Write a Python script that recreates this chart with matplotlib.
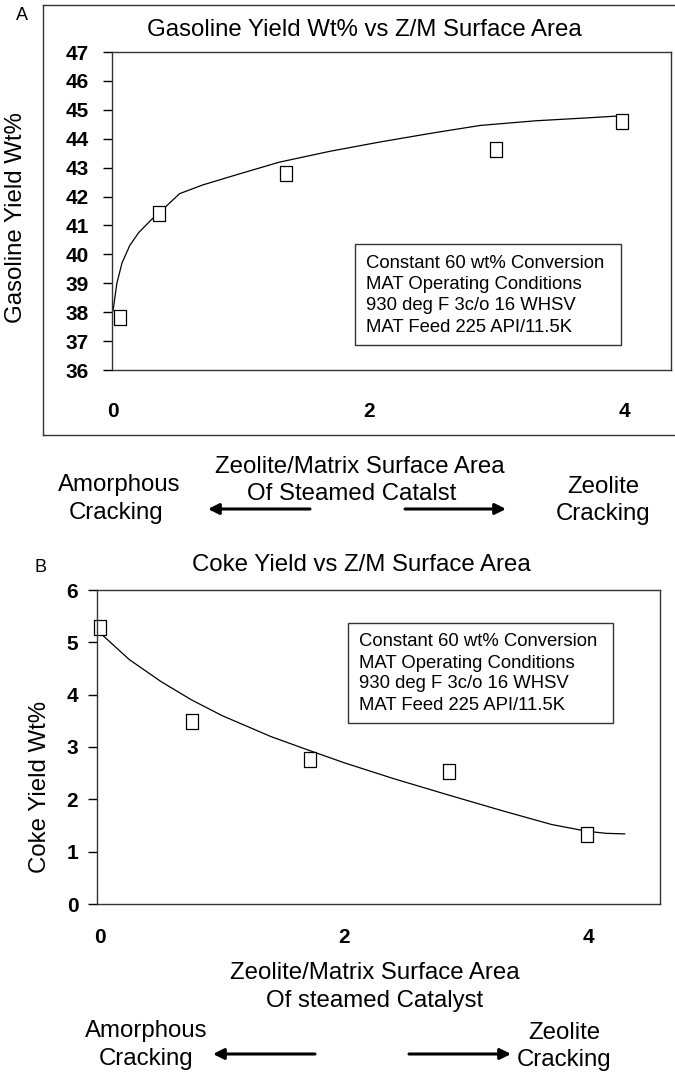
import matplotlib
matplotlib.use("Agg")
import matplotlib.pyplot as plt
from matplotlib.lines import Line2D
from matplotlib.patches import Rectangle
plt.rcParams['font.family'] = ['Liberation Sans', 'DejaVu Sans']

# panel A data: gasoline yield
gas_x = [0.055, 0.36, 1.35, 2.99, 3.98]
gas_y = [37.85, 41.43, 42.83, 43.66, 44.62]
gas_fit_x = [0.0, 0.03, 0.07, 0.13, 0.2, 0.3, 0.4, 0.52, 0.7, 1.0, 1.3, 1.7, 2.09, 2.5, 2.87, 3.3, 3.7, 4.0]
gas_fit_y = [38.05, 39.0, 39.7, 40.3, 40.75, 41.2, 41.6, 42.1, 42.4, 42.8, 43.19, 43.57, 43.89, 44.2, 44.46, 44.62, 44.72, 44.8]

# panel B data: coke yield
coke_x = [0.0, 0.75, 1.72, 2.86, 3.99]
coke_y = [5.30, 3.49, 2.77, 2.54, 1.34]
coke_fit_x = [0.0, 0.24, 0.5, 0.75, 1.0, 1.4, 1.72, 2.0, 2.4, 2.86, 3.3, 3.7, 3.99, 4.15, 4.3]
coke_fit_y = [5.18, 4.67, 4.25, 3.9, 3.6, 3.2, 2.93, 2.7, 2.4, 2.08, 1.78, 1.52, 1.39, 1.35, 1.34]

box_lines = ["Constant 60 wt% Conversion", "MAT Operating Conditions",
             "930 deg F 3c/o 16 WHSV", "MAT Feed 225 API/11.5K"]

W, H = 675, 1076
fig = plt.figure(figsize=(W / 100, H / 100), dpi=100)

def fx(x): return x / W
def fy(y): return 1 - y / H

tall_sq = [(-0.4, -0.5), (0.4, -0.5), (0.4, 0.5), (-0.4, 0.5), (-0.4, -0.5)]
edge = '#333333'
big = 17.3

def style_axes(ax, xpad, ypad):
    for s in ax.spines.values():
        s.set_linewidth(1.0)
        s.set_color(edge)
    ax.tick_params(axis='y', direction='out', length=6.5, width=1, pad=ypad, labelsize=15)
    ax.tick_params(axis='x', length=0, pad=xpad, labelsize=15)
    for lab in ax.get_xticklabels() + ax.get_yticklabels():
        lab.set_fontweight('bold')

def note_box(x0, y0, x1, y1, tx, ys):
    fig.add_artist(Rectangle((fx(x0), fy(y1)), fx(x1) - fx(x0), fy(y0) - fy(y1),
                             transform=fig.transFigure, facecolor='white',
                             edgecolor=edge, lw=1.0))
    for line, yy in zip(box_lines, ys):
        fig.text(fx(tx), fy(yy), line, fontsize=13.3, ha='left', va='center')

def label(x, y, s, size=big):
    fig.text(fx(x), fy(y), s, fontsize=size, ha='center', va='center')

arrow = dict(arrowstyle='-|>', lw=2.2, color='black', mutation_scale=16, shrinkA=0, shrinkB=0)

def arrow_fig(x0, x1, y):
    fig.add_artist(plt.Annotation("", xy=(fx(x1), fy(y)), xytext=(fx(x0), fy(y)),
                                  xycoords='figure fraction', arrowprops=arrow))

# ---------------- panel A
axA = fig.add_axes([fx(112), fy(370), fx(671) - fx(112), fy(52) - fy(370)])
axA.plot(gas_fit_x, gas_fit_y, color='black', lw=0.9)
axA.plot(gas_x, gas_y, linestyle='none', marker=tall_sq, markersize=10.8,
         markerfacecolor='white', markeredgecolor='black', markeredgewidth=0.9)
axA.set_xlim(-0.008, 4.36)
axA.set_ylim(36, 47)
axA.set_xticks([0, 2, 4])
axA.set_yticks(range(36, 48))
style_axes(axA, 23, 10)
fig.text(fx(16), fy(218), "Gasoline Yield Wt%", rotation=90, fontsize=big,
         ha='center', va='center')
label(364, 30, "Gasoline Yield Wt% vs Z/M Surface Area")
label(22, 15, "A", 13)
note_box(355, 244, 621, 345, 366, [263, 284, 306, 327])
# outer frame of panel A
fig.add_artist(Line2D([fx(43), fx(43)], [fy(5), fy(435)], color=edge, lw=1))
fig.add_artist(Line2D([fx(43), fx(675)], [fy(435), fy(435)], color=edge, lw=1))
fig.add_artist(Line2D([fx(43), fx(675)], [fy(5), fy(5)], color=edge, lw=1))

label(360, 467, "Zeolite/Matrix Surface Area")
label(352, 494, "Of Steamed Catalst")
label(119, 485, "Amorphous")
label(116, 513, "Cracking")
label(603, 487, "Zeolite")
label(603, 514, "Cracking")
arrow_fig(310, 208, 509)
arrow_fig(405, 506, 509)

# ---------------- panel B
axB = fig.add_axes([fx(97), fy(904), fx(660) - fx(97), fy(590) - fy(904)])
axB.plot(coke_fit_x, coke_fit_y, color='black', lw=0.9)
axB.plot(coke_x, coke_y, linestyle='none', marker=tall_sq, markersize=10.8,
         markerfacecolor='white', markeredgecolor='black', markeredgewidth=0.9, clip_on=False)
axB.set_xlim(-0.025, 4.59)
axB.set_ylim(0, 6)
axB.set_xticks([0, 2, 4])
axB.set_yticks(range(0, 7))
style_axes(axB, 17, 7)
fig.text(fx(40), fy(787), "Coke Yield Wt%", rotation=90, fontsize=big,
         ha='center', va='center')
label(361, 565, "Coke Yield vs Z/M Surface Area")
label(40, 567, "B", 13)
note_box(348, 623, 613, 723, 359, [642, 663, 684, 706])

label(375, 973, "Zeolite/Matrix Surface Area")
label(375, 1001, "Of steamed Catalyst")
label(146, 1031, "Amorphous")
label(146, 1059, "Cracking")
label(564, 1033, "Zeolite")
label(564, 1060, "Cracking")
arrow_fig(315, 213, 1054)
arrow_fig(409, 511, 1054)

fig.savefig("out.png", dpi=100)
